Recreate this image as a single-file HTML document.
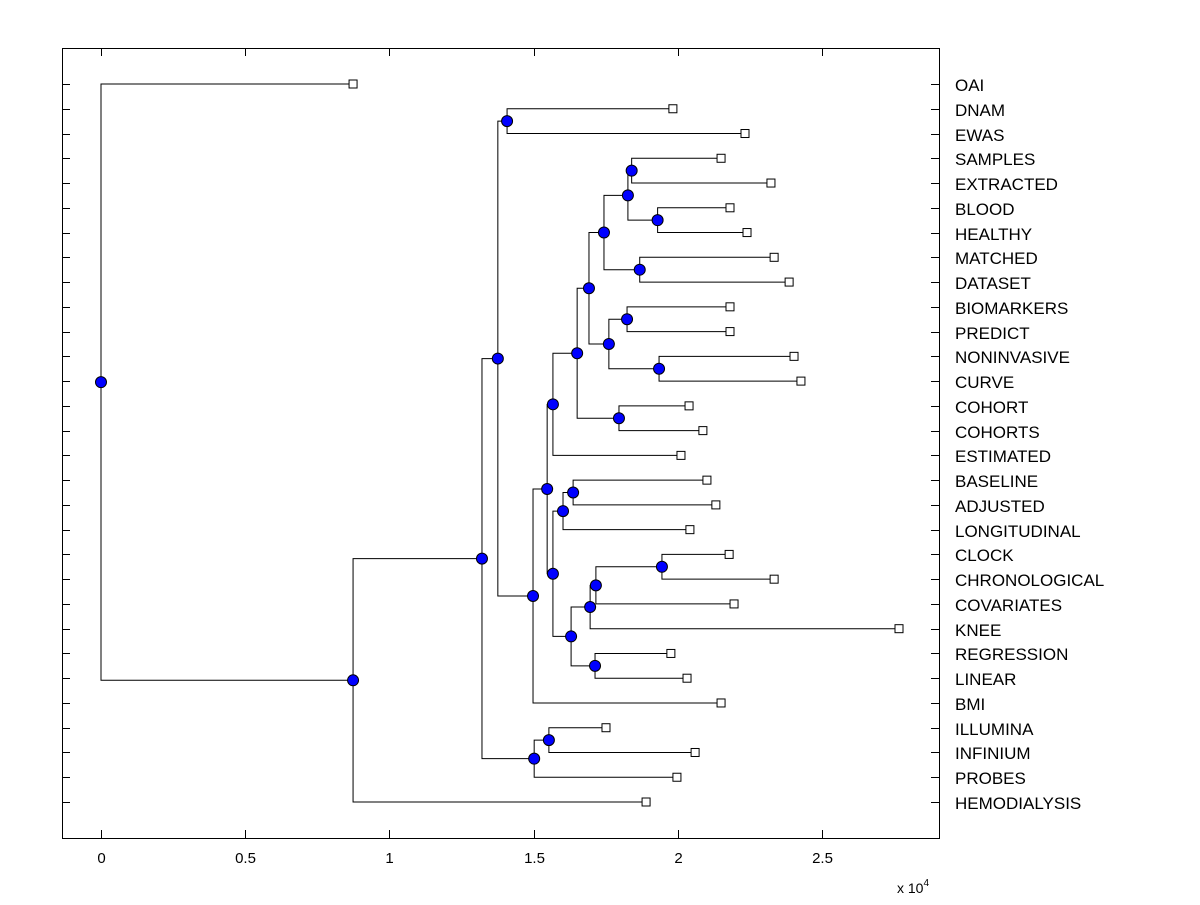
<!DOCTYPE html>
<html><head><meta charset="utf-8"><style>
body{margin:0;background:#fff;}
svg text{font-family:"Liberation Sans",Arial,sans-serif;}
</style></head><body>
<svg id="chart" width="1200" height="900" xmlns="http://www.w3.org/2000/svg">
<rect x="0" y="0" width="1200" height="900" fill="#fff"/>
<g id="axes"></g><g id="links"></g><g id="marks"></g>
</svg>
<script>
const labels=["OAI","DNAM","EWAS","SAMPLES","EXTRACTED","BLOOD","HEALTHY","MATCHED","DATASET","BIOMARKERS","PREDICT","NONINVASIVE","CURVE","COHORT","COHORTS","ESTIMATED","BASELINE","ADJUSTED","LONGITUDINAL","CLOCK","CHRONOLOGICAL","COVARIATES","KNEE","REGRESSION","LINEAR","BMI","ILLUMINA","INFINIUM","PROBES","HEMODIALYSIS"];
const leafValues=[0.874,1.983,2.233,2.150,2.323,2.181,2.240,2.334,2.386,2.181,2.181,2.403,2.427,2.039,2.087,2.011,2.101,2.132,2.042,2.178,2.334,2.195,2.767,1.976,2.032,2.150,1.751,2.060,1.997,1.890];
// internal nodes: [name, value, childA, childB]
const nodes=[
["kSE",1.84,"SAMPLES","EXTRACTED"],["lBH",1.93,"BLOOD","HEALTHY"],["iSB",1.827,"kSE","lBH"],
["jMD",1.868,"MATCHED","DATASET"],["gMD",1.744,"iSB","jMD"],
["mBP",1.824,"BIOMARKERS","PREDICT"],["nNC",1.935,"NONINVASIVE","CURVE"],["hBN",1.761,"mBP","nNC"],
["eGH",1.692,"gMD","hBN"],["fCC",1.796,"COHORT","COHORTS"],["dEF",1.651,"eGH","fCC"],
["bDE",1.567,"dEF","ESTIMATED"],
["qBA",1.637,"BASELINE","ADJUSTED"],["oQL",1.602,"qBA","LONGITUDINAL"],
["uCC",1.945,"CLOCK","CHRONOLOGICAL"],["tUC",1.716,"uCC","COVARIATES"],["rTK",1.696,"tUC","KNEE"],
["sRL",1.713,"REGRESSION","LINEAR"],["pRS",1.630,"rTK","sRL"],["cOP",1.567,"oQL","pRS"],
["aBC",1.547,"bDE","cOP"],["n4",1.498,"aBC","BMI"],
["deN",1.408,"DNAM","EWAS"],["n3",1.376,"deN","n4"],
["iiN",1.553,"ILLUMINA","INFINIUM"],["ipN",1.502,"iiN","PROBES"],
["n2",1.321,"n3","ipN"],["n1",0.874,"n2","HEMODIALYSIS"],["root",0,"OAI","n1"]];
const xTicks=[0,0.5,1,1.5,2,2.5];
const xTickLabels=["0","0.5","1","1.5","2","2.5"];

const L=62,R=939,T=48,B=838,X0=101,K=288.4;
const xs=v=>X0+v*K, ys=i=>84+i*(802-84)/(labels.length-1);
const NS="http://www.w3.org/2000/svg";
function mk(tag,attrs,parent){const e=document.createElementNS(NS,tag);for(const k in attrs)e.setAttribute(k,attrs[k]);parent.appendChild(e);return e;}
const ax=document.getElementById('axes'),lk=document.getElementById('links'),mr=document.getElementById('marks');
const box=mk('rect',{x:L+.5,y:T+.5,width:R-L,height:B-T,fill:'none',stroke:'#000','stroke-width':1},ax);


labels.forEach((lab,i)=>{const y=Math.round(ys(i))+.5;
 const t1=mk('line',{x1:L,x2:L+8,y1:y,y2:y,stroke:'#000'},ax);
 
 
 const t2=mk('line',{x1:R-8,x2:R,y1:y,y2:y,stroke:'#000'},ax);
 
 
 const tx=mk('text',{x:955,y:y+6.5,'font-size':17},ax);tx.textContent=lab;
 
 
});
xTicks.forEach((v,i)=>{const x=Math.round(xs(v))+.5;
 const t1=mk('line',{x1:x,x2:x,y1:B-8,y2:B,stroke:'#000'},ax);
 
 
 const t2=mk('line',{x1:x,x2:x,y1:T,y2:T+8,stroke:'#000'},ax);
 
 
 const tx=mk('text',{x:x,y:863,'font-size':15,'text-anchor':'middle'},ax);tx.textContent=xTickLabels[i];
 
 
});
const ex=mk('text',{x:897,y:893,'font-size':14},ax);ex.innerHTML='x 10<tspan dy="-7" font-size="10">4</tspan>';



const pos={};
labels.forEach((l,i)=>pos[l]={x:xs(leafValues[i]),y:ys(i),leaf:true});
nodes.forEach(n=>{const a=pos[n[2]],b=pos[n[3]];pos[n[0]]={x:xs(n[1]),y:(a.y+b.y)/2,leaf:false};});
nodes.forEach(n=>{const p=pos[n[0]],a=pos[n[2]],b=pos[n[3]];
 const path=mk('path',{d:`M${a.x},${a.y}H${p.x}V${b.y}H${b.x}`,fill:'none',stroke:'#000','stroke-width':1},lk);
 
 
});
labels.forEach(l=>{const p=pos[l];
 const r=mk('rect',{x:p.x-4,y:p.y-4,width:8,height:8,fill:'#fff',stroke:'#000'},mr);
 
 
});
nodes.forEach(n=>{const p=pos[n[0]];
 const c=mk('circle',{cx:p.x,cy:p.y,r:5.5,fill:'#0000ff',stroke:'#000'},mr);
 
 
});
</script>
</body></html>
